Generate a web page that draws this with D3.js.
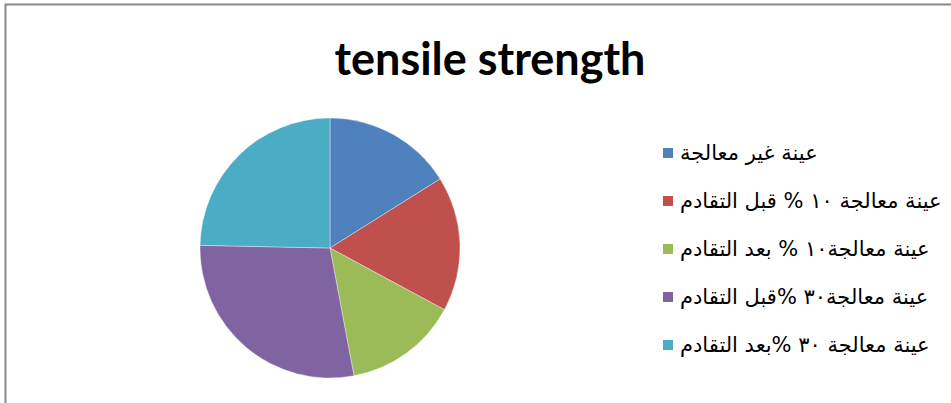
<!DOCTYPE html>
<html>
<head>
<meta charset="utf-8">
<script src="https://cdn.jsdelivr.net/npm/d3@7"></script>
<style>
html,body{margin:0;padding:0;background:#fff;}
svg{display:block;}
</style>
</head>
<body>
<svg id="chart" width="951" height="403"></svg>
<script>
const title = "tensile strength";
const categories = [
  "عينة غير معالجة",
  "عينة معالجة ١٠ % قبل التقادم",
  "عينة معالجة١٠ % بعد التقادم",
  "عينة معالجة٣٠ %قبل التقادم",
  "عينة معالجة ٣٠ %بعد التقادم"
];
const values = [16.1, 16.8, 14.2, 28.3, 24.7];
const colors = ["#4F81BD", "#C0504D", "#9BBB59", "#8064A2", "#4BACC6"];

const svg = d3.select("#chart");

// frame
svg.append("rect")
  .attr("x", 5.5).attr("y", 4.5)
  .attr("width", 1000).attr("height", 500)
  .attr("fill", "#fff")
  .attr("stroke", "#888").attr("stroke-width", 2);

// title
const t = svg.append("text")
  .attr("x", 490).attr("y", 75)
  .attr("text-anchor", "middle")
  .attr("font-family", "Lato, 'Open Sans', sans-serif")
  .attr("font-weight", "bold")
  .attr("font-size", 40)
  .attr("fill", "#000")
  .text(title);
const tw = t.node().getComputedTextLength();
t.attr("font-size", 40 * 311 / tw);

// pie
const cx = 330, cy = 248, r = 130;
const color = d3.scaleOrdinal().domain(categories).range(colors);
const pie = d3.pie().sort(null).value(d => d.v);
const arc = d3.arc().innerRadius(0).outerRadius(r);
const data = categories.map((c, i) => ({c, v: values[i]}));
svg.append("g").attr("transform", `translate(${cx},${cy})`)
  .selectAll("path").data(pie(data)).join("path")
  .attr("d", arc)
  .attr("fill", d => color(d.data.c))
  .attr("stroke", "#fff").attr("stroke-width", 0.6).attr("stroke-opacity", 0.6);

// legend
const ly = d3.scalePoint().domain(categories).range([153, 345]);
const lg = svg.append("g");
const items = lg.selectAll("g").data(categories).join("g")
  .attr("transform", d => `translate(663,${ly(d)})`);
items.append("rect")
  .attr("x", 0).attr("y", -5).attr("width", 10).attr("height", 10)
  .attr("fill", d => color(d));
items.append("text")
  .attr("x", 17).attr("y", 7)
  .attr("direction", "rtl")
  .attr("text-anchor", "end")
  .attr("font-family", "'DejaVu Sans', sans-serif")
  .attr("font-size", 21)
  .attr("fill", "#000")
  .text(d => d);
</script>
</body>
</html>
